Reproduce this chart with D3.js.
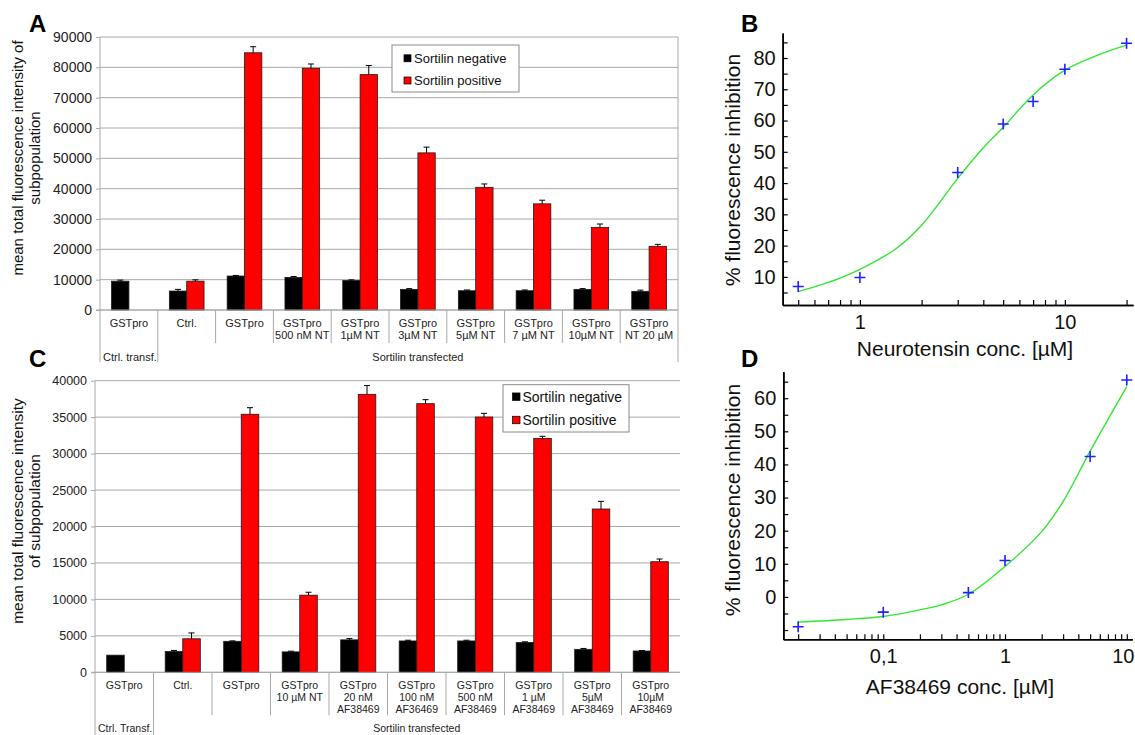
<!DOCTYPE html>
<html>
<head>
<meta charset="utf-8">
<script src="https://cdn.jsdelivr.net/npm/d3@7"></script>
<style>
  body { margin: 0; background: #fff; }
  text { font-family: "Liberation Sans", Arial, sans-serif; }
</style>
</head>
<body>
<script>
// ---- panel A data ----
const catsA = [["GSTpro"], ["Ctrl."], ["GSTpro"], ["GSTpro", "500 nM NT"], ["GSTpro", "1µM  NT"],
  ["GSTpro", "3µM NT"], ["GSTpro", "5µM NT"], ["GSTpro", "7 µM NT"], ["GSTpro", "10µM NT"], ["GSTpro", "NT 20 µM"]];
const negA = [9500, 6250, 11200, 10750, 9700, 6800, 6350, 6350, 6800, 6150];
const negErrA = [350, 550, 200, 300, 250, 250, 250, 250, 250, 400];
const posA = [null, 9500, 84800, 79700, 77600, 51800, 40450, 35000, 27250, 21000];
const posErrA = [0, 450, 2000, 1400, 3000, 1900, 1100, 1200, 1100, 650];
const groupsA = ["Ctrl. transf.", "Sortilin transfected"];
const groupSpanA = [1, 9];
const yTicksA = [0, 10000, 20000, 30000, 40000, 50000, 60000, 70000, 80000, 90000];

// ---- panel C data ----
const catsC = [["GSTpro"], ["Ctrl."], ["GSTpro"], ["GSTpro", "10 µM NT"], ["GSTpro", "20 nM", "AF38469"],
  ["GSTpro", "100 nM", "AF36469"], ["GSTpro", "500 nM", "AF38469"], ["GSTpro", "1 µM", "AF38469"],
  ["GSTpro", "5µM", "AF38469"], ["GSTpro", "10µM", "AF38469"]];
const negC = [2350, 2850, 4250, 2800, 4450, 4300, 4300, 4080, 3150, 2920];
const negErrC = [0, 150, 60, 100, 180, 100, 100, 100, 120, 60];
const posC = [null, 4600, 35400, 10580, 38130, 36850, 35020, 32090, 22400, 15170];
const posErrC = [0, 800, 900, 400, 1200, 550, 500, 280, 1050, 370];
const groupsC = ["Ctrl. Transf.", "Sortilin transfected"];
const groupSpanC = [1, 9];
const yTicksC = [0, 5000, 10000, 15000, 20000, 25000, 30000, 35000, 40000];

const seriesNames = ["Sortilin negative", "Sortilin positive"];
const seriesColors = ["#000000", "#ff0000"];

// ---- panel B data ----
const doseB = [0.5, 1, 3, 5, 7, 10, 20];
const inhB = [6.9, 9.8, 43.4, 58.9, 66.1, 76.4, 84.7];
const fitXB = [0.5, 0.6, 0.8, 1, 1.5, 2, 3, 4, 5, 7, 10, 15, 20];
const fitYB = [5.3, 6.8, 9.6, 12.4, 19, 26.5, 41.5, 51.3, 57.8, 68.2, 76.1, 81.3, 84.1];
const xMajorB = [1, 10];
const xLabelB = ["1", "10"];
const xMinorB = [0.5, 0.6, 0.7, 0.8, 0.9, 2, 3, 4, 5, 6, 7, 8, 9, 20];
const yMajorB = [10, 20, 30, 40, 50, 60, 70, 80];
const yMinorB = [5, 15, 25, 35, 45, 55, 65, 75, 85];

// ---- panel D data ----
const doseD = [0.02, 0.1, 0.5, 1, 5, 10];
const inhD = [-9, -4.6, 1.3, 11, 42.4, 65.5];
const fitXD = [0.02, 0.05, 0.1, 0.2, 0.3, 0.5, 1, 2, 3, 5, 10];
const fitYD = [-7.6, -6.8, -5.9, -3.9, -2.4, 0.8, 9.2, 19.7, 28.8, 44, 63.5];
const xMajorD = [0.1, 1, 10];
const xLabelD = ["0,1", "1", "10"];
const xMinorD = [0.02, 0.03, 0.04, 0.05, 0.06, 0.07, 0.08, 0.09, 0.2, 0.3, 0.4, 0.5, 0.6, 0.7, 0.8, 0.9,
  2, 3, 4, 5, 6, 7, 8, 9];
const yMajorD = [0, 10, 20, 30, 40, 50, 60];
const yMinorD = [-10, -5, 5, 15, 25, 35, 45, 55, 65];

const svg = d3.select("body").append("svg")
    .attr("width", 1135)
    .attr("height", 735);

const gridColor = "#a8a8a8";

function barPanel(o) {
    const g = svg.append("g");
    const n = o.cats.length;
    const x = d3.scaleBand().domain(d3.range(n)).range([o.x0, o.x1]);
    const inner = d3.scaleBand().domain([0, 1]).range([0, x.bandwidth()]).paddingOuter(2 / 3);
    const y = d3.scaleLinear().domain([0, o.yMax]).range([o.bottom, o.top]);

    // gridlines
    g.selectAll(".grid").data(o.yTicks).enter().append("line")
        .attr("x1", o.x0).attr("x2", o.x1)
        .attr("y1", d => y(d)).attr("y2", d => y(d))
        .attr("stroke", gridColor).attr("stroke-width", 1);

    // y axis
    const yAxis = d3.axisLeft(y).tickValues(o.yTicks).tickSize(4).tickPadding(4).tickFormat(d3.format("d"));
    const ax = g.append("g").attr("transform", `translate(${o.x0},0)`).call(yAxis);
    ax.select(".domain").remove();
    ax.selectAll("line").attr("stroke", gridColor);
    ax.selectAll("text").attr("font-size", o.tickFont).attr("fill", "#222")
        .attr("font-family", "Liberation Sans, Arial, sans-serif");

    // frame lines
    g.append("line").attr("x1", o.x0).attr("x2", o.x0).attr("y1", o.top).attr("y2", o.bottom + o.grpLen)
        .attr("stroke", gridColor);
    if (o.rightBorder) {
        g.append("line").attr("x1", o.x1).attr("x2", o.x1).attr("y1", o.top).attr("y2", o.bottom + o.grpLen)
            .attr("stroke", gridColor);
    }

    // category dividers
    const bounds = d3.range(1, n);
    const grpBounds = Array.from(d3.cumsum(o.spans)).slice(0, -1);
    g.selectAll(".div").data(bounds).enter().append("line")
        .attr("x1", d => x(d)).attr("x2", d => x(d))
        .attr("y1", o.bottom)
        .attr("y2", d => grpBounds.includes(d) ? o.bottom + o.grpLen : o.bottom + o.divLen)
        .attr("stroke", gridColor);

    // bars
    const rows = d3.range(n).map(i => ({i, v: [o.neg[i], o.pos[i]], e: [o.negErr[i], o.posErr[i]]}));
    const grp = g.selectAll(".cat").data(rows).enter().append("g")
        .attr("transform", d => `translate(${x(d.i)},0)`);
    [0, 1].forEach(s => {
        const sel = grp.filter(d => d.v[s] != null);
        sel.append("rect")
            .attr("x", inner(s))
            .attr("width", inner.bandwidth())
            .attr("y", d => y(d.v[s]))
            .attr("height", d => o.bottom - y(d.v[s]))
            .attr("fill", seriesColors[s])
            .attr("stroke", "#1a1a1a").attr("stroke-width", 0.8);
        const eb = sel.filter(d => d.e[s] > 0);
        const cx = inner(s) + inner.bandwidth() / 2;
        eb.append("line").attr("x1", cx).attr("x2", cx)
            .attr("y1", d => y(d.v[s])).attr("y2", d => y(d.v[s] + d.e[s]))
            .attr("stroke", "#000").attr("stroke-width", 1);
        eb.append("line").attr("x1", cx - 3).attr("x2", cx + 3)
            .attr("y1", d => y(d.v[s] + d.e[s])).attr("y2", d => y(d.v[s] + d.e[s]))
            .attr("stroke", "#000").attr("stroke-width", 1);
    });

    // baseline
    g.append("line").attr("x1", o.x0 - 4).attr("x2", o.x1).attr("y1", o.bottom).attr("y2", o.bottom)
        .attr("stroke", gridColor);

    // category labels
    const lab = g.selectAll(".lab").data(o.cats).enter().append("text")
        .attr("text-anchor", "middle")
        .attr("font-size", o.catFont)
        .attr("fill", "#222");
    lab.each(function(lines, i) {
        const t = d3.select(this);
        lines.forEach((s, k) => {
            t.append("tspan")
                .attr("x", x(i) + x.bandwidth() / 2)
                .attr("y", o.bottom + o.lineStart + k * o.lineStep)
                .text(s);
        });
    });

    // group labels
    const starts = [0].concat(grpBounds);
    g.selectAll(".glab").data(o.groups).enter().append("text")
        .attr("x", (d, i) => i === 0 ? o.x0 + 3 : (x(starts[i]) + o.x1) / 2)
        .attr("y", o.bottom + o.grpBase)
        .attr("text-anchor", (d, i) => i === 0 ? "start" : "middle")
        .attr("font-size", o.catFont)
        .attr("fill", "#222")
        .text(d => d);

    // y title
    o.title.forEach((s, k) => {
        g.append("text")
            .attr("transform", `translate(${o.titleCx[k]},${o.titleCy}) rotate(-90)`)
            .attr("text-anchor", "middle")
            .attr("dy", "0.35em")
            .attr("font-size", o.titleFont)
            .attr("fill", "#111")
            .text(s);
    });

    // legend
    const L = o.legend;
    g.append("rect").attr("x", L.x).attr("y", L.y).attr("width", L.w).attr("height", L.h)
        .attr("fill", "#fff").attr("stroke", "#8a8a8a");
    seriesNames.forEach((s, k) => {
        g.append("rect").attr("x", L.mx).attr("y", L.rows[k] - L.ms / 2)
            .attr("width", L.ms).attr("height", L.ms)
            .attr("fill", seriesColors[k]).attr("stroke", "#000").attr("stroke-width", 0.7);
        g.append("text").attr("x", L.tx).attr("y", L.rows[k]).attr("dy", "0.35em")
            .attr("font-size", L.font).attr("fill", "#111").text(s);
    });

    // panel letter
    g.append("text").attr("x", o.letterX).attr("y", o.letterY)
        .attr("font-size", 24).attr("font-weight", "bold").text(o.letter);
}

function curvePanel(o) {
    const g = svg.append("g");
    const x = d3.scaleLog().domain(o.xDomain).range([o.left, o.right]);
    const y = d3.scaleLinear().domain(o.yDomain).range([o.bottom, o.top]);

    const styleAxis = sel => {
        sel.select(".domain").attr("stroke", "#000").attr("stroke-width", 1.6);
        sel.selectAll(".tick line").attr("stroke", "#000").attr("stroke-width", 1.2);
        sel.selectAll("text").attr("font-size", 20).attr("fill", "#111")
            .attr("font-family", "Liberation Sans, Arial, sans-serif");
    };

    // x axis
    g.append("g").attr("transform", `translate(0,${o.bottom})`)
        .call(d3.axisBottom(x).tickValues(o.xMinor).tickSize(-5).tickSizeOuter(0).tickFormat(""))
        .call(styleAxis);
    const xa = g.append("g").attr("transform", `translate(0,${o.bottom})`)
        .call(d3.axisBottom(x).tickValues(o.xMajor).tickSize(-5).tickSizeOuter(0).tickPadding(10)
            .tickFormat((d, i) => o.xLabels[i]))
        .call(styleAxis);
    // keep a label at the right edge inside the page
    xa.selectAll(".tick text").filter(d => x(d) > 1115).attr("dx", -4);

    // y axis
    g.append("g").attr("transform", `translate(${o.left},0)`)
        .call(d3.axisLeft(y).tickValues(o.yMinor).tickSize(-5).tickSizeOuter(0).tickFormat(""))
        .call(styleAxis);
    g.append("g").attr("transform", `translate(${o.left},0)`)
        .call(d3.axisLeft(y).tickValues(o.yMajor).tickSize(-5).tickSizeOuter(0).tickPadding(7))
        .call(styleAxis);

    // fitted curve
    const line = d3.line().x(d => x(d[0])).y(d => y(d[1])).curve(d3.curveCatmullRom.alpha(0.5));
    g.append("path")
        .datum(o.fitX.map((v, i) => [v, o.fitY[i]]))
        .attr("d", line)
        .attr("fill", "none").attr("stroke", "#30e830").attr("stroke-width", 1.4);

    // data points
    g.selectAll(".pt").data(o.dose.map((v, i) => [v, o.inh[i]])).enter().append("path")
        .attr("transform", d => `translate(${x(d[0])},${y(d[1])})`)
        .attr("d", "M-5.5,0H5.5M0,-5.5V5.5")
        .attr("stroke", "#2020ff").attr("stroke-width", 1.6);

    // titles
    g.append("text")
        .attr("transform", `translate(${o.yTitleX},${o.yTitleY}) rotate(-90)`)
        .attr("text-anchor", "middle").attr("dy", "0.35em")
        .attr("font-size", 21).attr("fill", "#111")
        .text("% fluorescence inhibition");
    g.append("text")
        .attr("x", o.xTitleX).attr("y", o.xTitleY).attr("dy", "0.35em")
        .attr("text-anchor", "middle")
        .attr("font-size", 21).attr("fill", "#111")
        .text(o.xTitle);

    g.append("text").attr("x", o.letterX).attr("y", o.letterY)
        .attr("font-size", 24).attr("font-weight", "bold").text(o.letter);
}

barPanel({
    cats: catsA, neg: negA, negErr: negErrA, pos: posA, posErr: posErrA,
    groups: groupsA, spans: groupSpanA, yTicks: yTicksA, yMax: 90000,
    x0: 100, x1: 678, top: 37, bottom: 310,
    tickFont: 14, catFont: 11, lineStart: 16.6, lineStep: 12.3,
    divLen: 33, grpLen: 52, grpBase: 50.5, rightBorder: true,
    title: ["mean total fluorescence intensity of", "subpopulation"],
    titleFont: 15, titleCx: [18, 35], titleCy: 158,
    legend: {x: 392, y: 45, w: 127, h: 47, mx: 404, ms: 7, tx: 414, rows: [58.3, 80.5], font: 13},
    letter: "A", letterX: 29, letterY: 32
});

barPanel({
    cats: catsC, neg: negC, negErr: negErrC, pos: posC, posErr: posErrC,
    groups: groupsC, spans: groupSpanC, yTicks: yTicksC, yMax: 40000,
    x0: 95, x1: 680, top: 380.7, bottom: 672.3,
    tickFont: 12.5, catFont: 10.5, lineStart: 16.4, lineStep: 12,
    divLen: 43, grpLen: 63, grpBase: 59.5, rightBorder: false,
    title: ["mean total fluorescence intensity", "of subpopulation"],
    titleFont: 15.5, titleCx: [18, 35], titleCy: 511,
    legend: {x: 503, y: 384.7, w: 126, h: 47.3, mx: 512.5, ms: 7.5, tx: 522.5, rows: [396.7, 420], font: 14},
    letter: "C", letterX: 29, letterY: 367
});

curvePanel({
    dose: doseB, inh: inhB, fitX: fitXB, fitY: fitYB,
    xMajor: xMajorB, xLabels: xLabelB, xMinor: xMinorB, yMajor: yMajorB, yMinor: yMinorB,
    xDomain: [0.42, 21.5], yDomain: [1, 88],
    left: 782.7, right: 1133, top: 33, bottom: 305,
    yTitleX: 733, yTitleY: 170, xTitle: "Neurotensin conc. [µM]", xTitleX: 965, xTitleY: 349,
    letter: "B", letterX: 741, letterY: 32
});

curvePanel({
    dose: doseD, inh: inhD, fitX: fitXD, fitY: fitYD,
    xMajor: xMajorD, xLabels: xLabelD, xMinor: xMinorD, yMajor: yMajorD, yMinor: yMinorD,
    xDomain: [0.0151, 11.1], yDomain: [-12.8, 68],
    left: 783.3, right: 1132.3, top: 371.7, bottom: 639.3,
    yTitleX: 733, yTitleY: 500, xTitle: "AF38469 conc. [µM]", xTitleX: 960, xTitleY: 686.7,
    letter: "D", letterX: 741, letterY: 367
});
</script>
</body>
</html>
